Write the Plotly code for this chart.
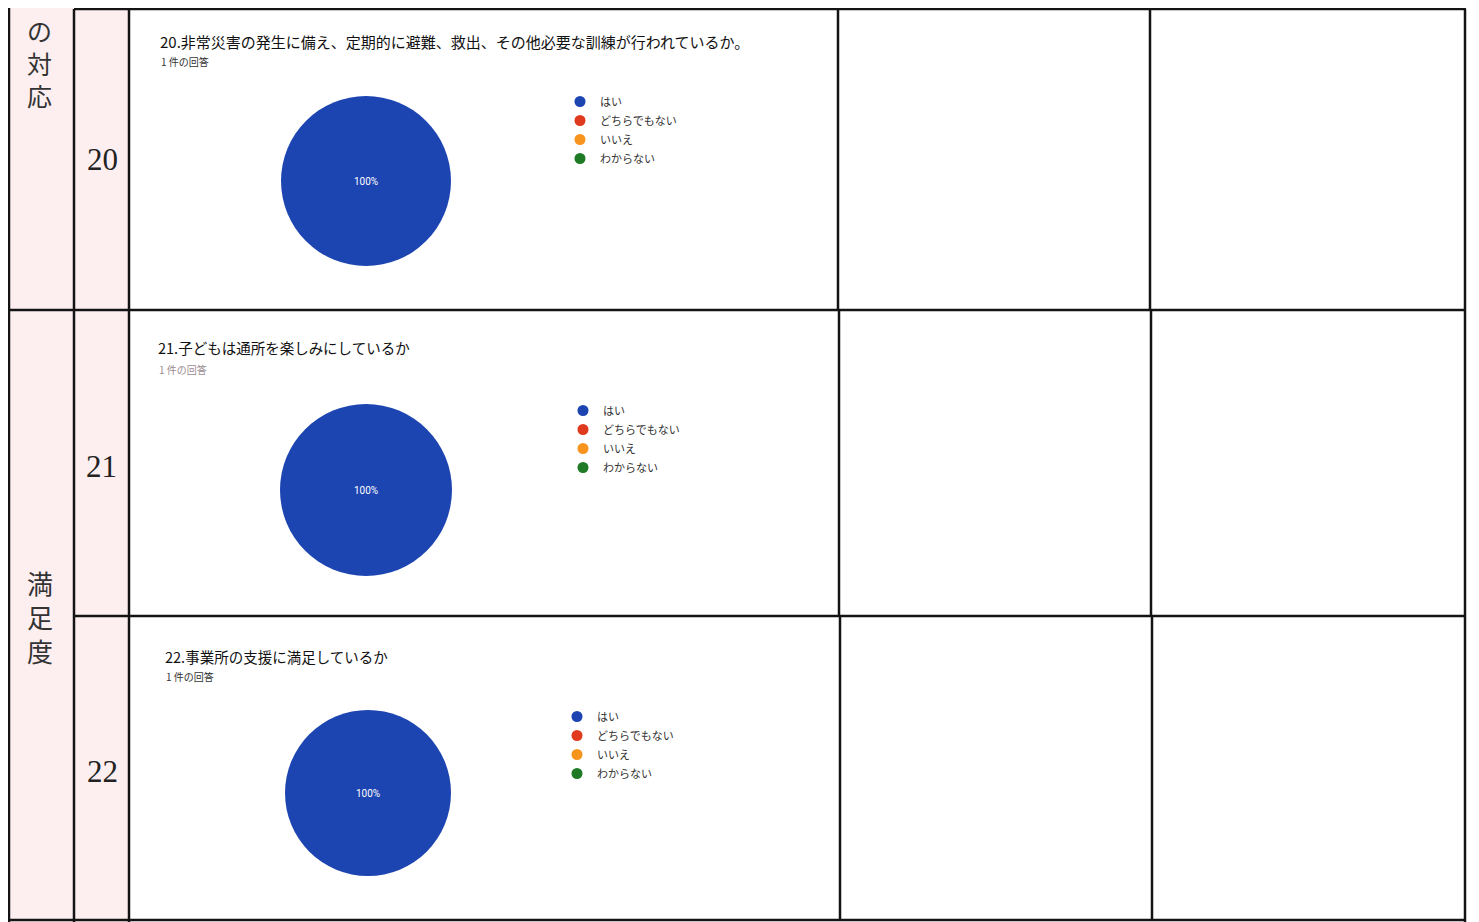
import plotly.graph_objects as go

# The page body adds an 8px margin; the figure is sized to fill the rest of the window.
OFF = 8
W, H = 1479 - OFF, 922 - OFF

# ---- data ----
answer_labels = ["はい", "どちらでもない", "いいえ", "わからない"]
answer_colors = ["#1d45b2", "#e03a1e", "#f7941d", "#1f7a26"]
q_numbers = ["20", "21", "22"]
q_titles = [
    "20.非常災害の発生に備え、定期的に避難、救出、その他必要な訓練が行われているか。",
    "21.子どもは通所を楽しみにしているか",
    "22.事業所の支援に満足しているか",
]
q_subtitles = ["1 件の回答", "1 件の回答", "1 件の回答"]
q20_values = [1, 0, 0, 0]
q21_values = [1, 0, 0, 0]
q22_values = [1, 0, 0, 0]
section_labels = ["の<br>対<br>応", "満<br>足<br>度"]

# ---- layout helpers (window pixels -> paper) ----
def px(x):
    return (x - OFF) / W

def py(y):
    return 1 - (y - OFF) / H

fig = go.Figure()

# pies: (center x, center y, radius) in window pixels
pie_geom = [(366, 181, 85), (366, 490, 86), (368, 793, 83)]
all_values = [q20_values, q21_values, q22_values]
legend_names = ["legend", "legend2", "legend3"]

for i, (vals, (cx, cy, r)) in enumerate(zip(all_values, pie_geom)):
    total = sum(vals)
    texts = [f"{v / total * 100:.0f}%" if v > 0 else "" for v in vals]
    fig.add_trace(go.Pie(
        labels=answer_labels,
        values=vals,
        text=texts,
        textinfo="text",
        textposition="inside",
        insidetextfont=dict(color="white", size=10, family="Roboto, Arial"),
        marker=dict(colors=answer_colors, line=dict(width=0)),
        sort=False,
        direction="clockwise",
        showlegend=False,
        hoverinfo="label+percent",
        domain=dict(x=[px(cx - r), px(cx + r)], y=[py(cy + r), py(cy - r)]),
    ))
    for lab, col in zip(answer_labels, answer_colors):
        fig.add_trace(go.Scatter(
            x=[None], y=[None], mode="markers", name=lab,
            marker=dict(color=col, size=11, symbol="circle"),
            legend=legend_names[i], showlegend=True, hoverinfo="skip",
        ))

# legends placement (marker center x, first item y)
legend_pos = [(580, 101), (583, 410), (577, 716)]
legend_fonts = dict(family="Noto Sans CJK JP", size=11, color="#333333")
for name, (lx, ly) in zip(legend_names, legend_pos):
    fig.update_layout({name: dict(
        x=px(lx - 20), y=py(ly - 14), xanchor="left", yanchor="top",
        bgcolor="rgba(0,0,0,0)", borderwidth=0, font=legend_fonts,
        itemclick=False, itemdoubleclick=False,
    )})

# ---- table lines ----
line_col = "#141414"
lw = 2.5
shapes = []
def hline(y, x0, x1):
    shapes.append(dict(type="line", xref="paper", yref="paper", x0=px(x0), x1=px(x1),
                       y0=py(y), y1=py(y), line=dict(color=line_col, width=lw)))
def vline(x, y0, y1):
    shapes.append(dict(type="line", xref="paper", yref="paper", x0=px(x), x1=px(x),
                       y0=py(y0), y1=py(y1), line=dict(color=line_col, width=lw)))
def rect(x0, y0, x1, y1, color):
    shapes.append(dict(type="rect", xref="paper", yref="paper", x0=px(x0), x1=px(x1),
                       y0=py(y1), y1=py(y0), fillcolor=color, line=dict(width=0), layer="below"))

rect(8, 0, 74, 922, "#fdeef0")
rect(74, 9, 129, 922, "#fdeef0")

hline(9, 74, 1466)
hline(310, 8, 1466)
hline(616, 74, 1466)
hline(920, 8, 1466)
vline(9, 0, 922)
vline(74, 9, 922)
vline(129, 9, 922)
vline(838, 9, 310)
vline(839, 310, 616)
vline(840, 616, 920)
vline(1150, 9, 310)
vline(1151, 310, 616)
vline(1152, 616, 920)
vline(1465, 9, 922)

# ---- texts ----
annotations = []
title_pos = [(158, 41, 15, "#111111"), (156, 348, 14.5, "#111111"), (163, 656, 14.5, "#111111")]
sub_pos = [(159, 61, "#333333"), (157, 369, "#9a8c90"), (164, 676, "#333333")]
for t, s, (tx, ty, tfs, tc), (sx, sy, sc) in zip(q_titles, q_subtitles, title_pos, sub_pos):
    annotations.append(dict(text=t, x=px(tx), y=py(ty), xref="paper", yref="paper",
                            xanchor="left", yanchor="middle", showarrow=False,
                            font=dict(family="Noto Sans CJK JP", size=tfs, color=tc)))
    annotations.append(dict(text=s, x=px(sx), y=py(sy), xref="paper", yref="paper",
                            xanchor="left", yanchor="middle", showarrow=False,
                            font=dict(family="Noto Sans CJK JP", size=10, color=sc)))

num_pos = [(102, 160), (101, 466), (102, 771)]
for n, (nx, ny) in zip(q_numbers, num_pos):
    annotations.append(dict(text=n, x=px(nx), y=py(ny), xref="paper", yref="paper",
                            xanchor="center", yanchor="middle", showarrow=False,
                            font=dict(family="Liberation Serif", size=31, color="#222222")))

# section labels: first one anchored at its top so it stays inside the page
annotations.append(dict(text=section_labels[0], x=px(40), y=py(10), xref="paper", yref="paper",
                        xanchor="center", yanchor="top", showarrow=False,
                        font=dict(family="Noto Sans CJK JP", size=25, color="#333333")))
annotations.append(dict(text=section_labels[1], x=px(40), y=py(616), xref="paper", yref="paper",
                        xanchor="center", yanchor="middle", showarrow=False,
                        font=dict(family="Noto Sans CJK JP", size=26, color="#333333")))

fig.update_layout(
    width=W, height=H,
    margin=dict(l=0, r=0, t=0, b=0),
    paper_bgcolor="white", plot_bgcolor="white",
    xaxis=dict(visible=False), yaxis=dict(visible=False),
    shapes=shapes, annotations=annotations,
)

fig.write_html("out.html")
